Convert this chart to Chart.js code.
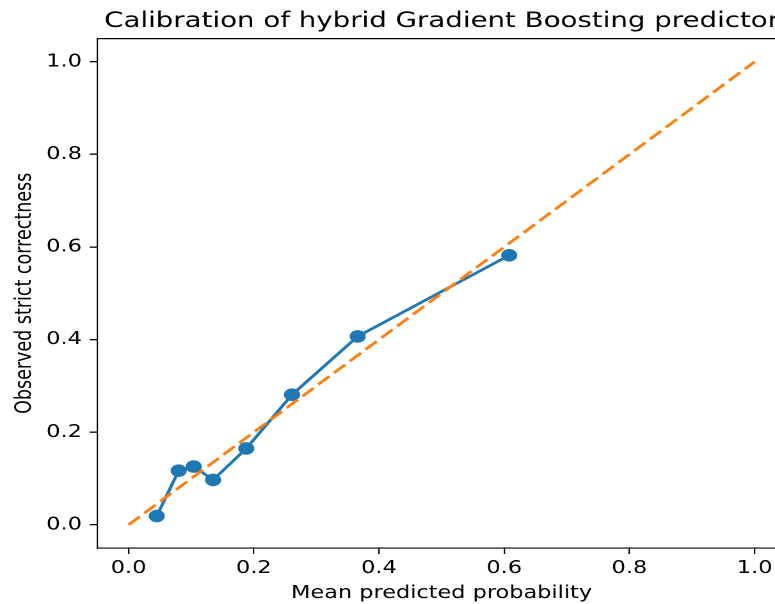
<!DOCTYPE html>
<html>
<head>
<meta charset="utf-8">
<script src="https://cdn.jsdelivr.net/npm/chart.js@4"></script>
<style>
body{margin:0;background:#fff}
#wrap{width:775px;height:604px;overflow:hidden;position:relative;background:#fff}
#box{width:690px;height:604px;transform:scaleX(1.28);transform-origin:0 0}
</style>
</head>
<body>
<div id="wrap"><div id="box"><canvas id="myChart"></canvas></div></div>
<script>
// calibration curve data
var titleText="Calibration of hybrid Gradient Boosting predictor"
var xLabel="Mean predicted probability"
var yLabel="Observed strict correctness"
var meanPred=[0.045,0.080,0.104,0.135,0.188,0.261,0.366,0.608]
var fracPos=[0.019,0.117,0.126,0.097,0.165,0.281,0.407,0.582]
var diagX=[0,1]
var diagY=[0,1]
var tickVals=[0,0.2,0.4,0.6,0.8,1.0]

Chart.defaults.font.family="DejaVu Sans"
Chart.defaults.color="#000"

function pts(xs,ys){
    return xs.map((x,i)=>({x:x,y:ys[i]}))
}
function fixTicks(s){
    s.ticks=tickVals.map(v=>({value:v}))
}

const ctx=document.getElementById('myChart');
new Chart(ctx,{
    type:'scatter',
    data:{
        datasets:[{
            label:'perfect',
            data:pts(diagX,diagY),
            showLine:true,
            borderColor:'#ff7f0e',
            borderWidth:2.6,
            borderDash:[12,5],
            pointRadius:0,
            order:0
        },{
            label:'model',
            data:pts(meanPred,fracPos),
            showLine:true,
            borderColor:'#1f77b4',
            backgroundColor:'#1f77b4',
            borderWidth:2.6,
            pointRadius:6.3,
            pointBorderWidth:0,
            order:1
        }]
    },
    options:{
        responsive:true,
        maintainAspectRatio:false,
        animation:false,
        devicePixelRatio:2,
        layout:{padding:0},
        plugins:{
            legend:{display:false},
            tooltip:{enabled:false},
            title:{
                display:true,
                text:titleText,
                font:{size:21.6,weight:'normal'},
                color:'#000',
                padding:{top:8.3,bottom:4.4}
            }
        },
        scales:{
            x:{
                type:'linear',
                position:'bottom',
                min:-0.05,max:1.05,
                afterBuildTicks:fixTicks,
                afterFit:s=>{s.height=56},
                ticks:{font:{size:17.5},padding:4,maxRotation:0,callback:v=>v.toFixed(1)},
                grid:{drawOnChartArea:false,drawTicks:true,tickLength:6,color:'#000',lineWidth:1.1},
                border:{display:true,color:'#000',width:1.1},
                title:{display:true,text:xLabel,font:{size:17.5},padding:{top:0,bottom:0}}
            },
            y:{
                type:'linear',
                position:'left',
                min:-0.05,max:1.05,
                afterBuildTicks:fixTicks,
                afterFit:s=>{s.width=76},
                ticks:{font:{size:17.5},padding:6,callback:v=>v.toFixed(1)},
                grid:{drawOnChartArea:false,drawTicks:true,tickLength:6,color:'#000',lineWidth:1.3},
                border:{display:true,color:'#000',width:1.1},
                title:{display:true,text:yLabel,font:{size:17.5},padding:{top:9,bottom:0}}
            },
            x2:{
                type:'linear',
                position:'top',
                min:-0.05,max:1.05,
                afterFit:s=>{s.height=0},
                ticks:{display:false},
                grid:{display:false},
                border:{display:true,color:'#000',width:1.3}
            },
            y2:{
                type:'linear',
                position:'right',
                min:-0.05,max:1.05,
                afterFit:s=>{s.width=76},
                ticks:{display:false},
                grid:{display:false},
                border:{display:false}
            }
        }
    }
});
</script>
</body>
</html>
